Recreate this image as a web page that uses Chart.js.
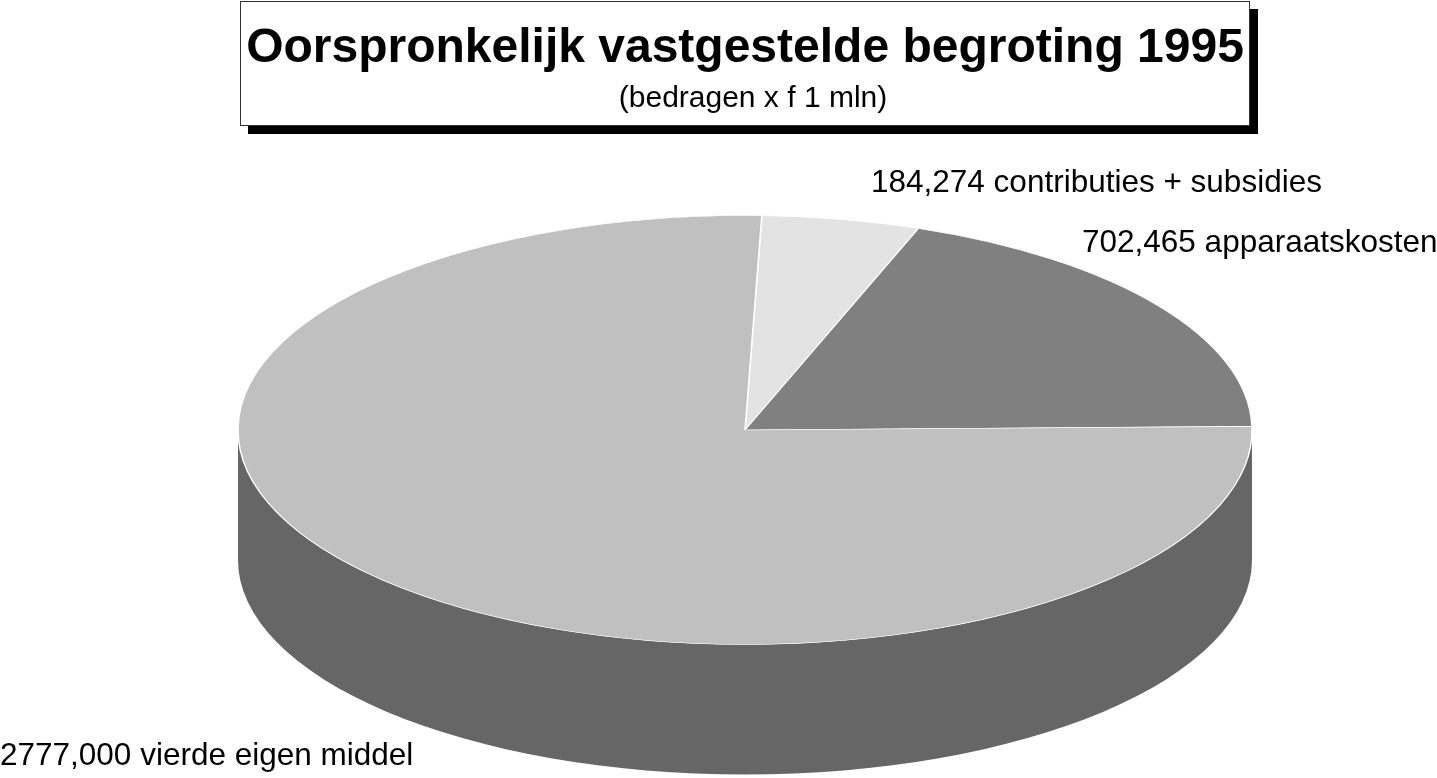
<!DOCTYPE html>
<html lang="nl">
<head>
  <meta charset="UTF-8">
  <title>Oorspronkelijk vastgestelde begroting 1995</title>
  <script src="https://cdn.jsdelivr.net/npm/chart.js"></script>
  <style>
    body { margin: 0; background: #fff; font-family: "Liberation Sans", Arial, sans-serif; }
    #wrap { position: relative; width: 1437px; height: 778px; overflow: hidden; }
    #chart { position: absolute; left: 0; top: 0; }
    #titleBox {
      position: absolute; left: 240px; top: 1px; width: 1008px; height: 123px;
      border: 1px solid #333; background: #fff; box-shadow: 8px 8px 0 #000; z-index: 2;
    }
    #titleBox .main {
      position: absolute; left: 0; top: 20px; width: 100%; text-align: center;
      font-weight: bold; font-size: 48px; line-height: 48px; white-space: nowrap;
    }
    #titleBox .sub {
      position: absolute; left: 8px; top: 80px; width: 100%; text-align: center;
      font-size: 30px; line-height: 30px; white-space: nowrap;
    }
  </style>
</head>
<body>
  <div id="wrap">
    <canvas id="chart" width="1437" height="778"></canvas>
    <!-- Title box with drop shadow -->
    <div id="titleBox">
      <div class="main">Oorspronkelijk vastgestelde begroting 1995</div>
      <div class="sub">(bedragen x f 1 mln)</div>
    </div>
  </div>

  <script>
    // data (x f 1 mln)
    const categories = ['contributies + subsidies', 'apparaatskosten', 'vierde eigen middel'];
    const amounts = [184.274, 702.465, 2777.000];

    // styles
    const topColors = ['#e3e3e3', '#808080', '#c0c0c0'];
    const wallColors = ['#8c8c8c', '#4d4d4d', '#666666'];
    const labelAt = [[871, 192], [1082, 252], [0, 765]];

    const TILT = 214.5 / 507;  // vertical squash of the disc
    const DEPTH = 130;         // thickness of the disc in px

    const fmt = v => v.toFixed(3).replace('.', ',');

    // draws the side wall, then squashes the pie into an ellipse
    const pie3d = {
      id: 'pie3d',
      beforeDatasetsDraw(chart) {
        const ctx = chart.ctx;
        const meta = chart.getDatasetMeta(0);
        meta.data.forEach((arc, i) => {
          const { x, y, startAngle, endAngle, outerRadius } =
            arc.getProps(['x', 'y', 'startAngle', 'endAngle', 'outerRadius']);
          const rx = outerRadius, ry = outerRadius * TILT;
          for (let k = -1; k <= 1; k++) {
            const a0 = Math.max(startAngle, k * 2 * Math.PI);
            const a1 = Math.min(endAngle, k * 2 * Math.PI + Math.PI);
            if (a1 <= a0) continue;
            ctx.save();
            ctx.fillStyle = wallColors[i];
            ctx.beginPath();
            ctx.ellipse(x, y, rx, ry, 0, a0, a1, false);
            ctx.lineTo(x + rx * Math.cos(a1), y + ry * Math.sin(a1) + DEPTH);
            ctx.ellipse(x, y + DEPTH, rx, ry, 0, a1, a0, true);
            ctx.closePath();
            ctx.fill();
            ctx.restore();
          }
        });
      },
      beforeDatasetDraw(chart, args) {
        const ctrl = args.meta.controller;
        if (ctrl._tilted) return;
        const orig = ctrl.draw.bind(ctrl);
        ctrl.draw = function () {
          const ctx = chart.ctx;
          const a = args.meta.data[0];
          ctx.save();
          ctx.translate(a.x, a.y);
          ctx.scale(1, TILT);
          ctx.translate(-a.x, -a.y);
          orig();
          ctx.restore();
        };
        ctrl._tilted = true;
      },
      afterDraw(chart) {
        const ctx = chart.ctx;
        ctx.save();
        ctx.font = '31.5px "Liberation Sans", Arial, sans-serif';
        ctx.fillStyle = '#000';
        ctx.textAlign = 'left';
        ctx.textBaseline = 'alphabetic';
        categories.forEach((c, i) => {
          ctx.fillText(fmt(amounts[i]) + ' ' + c, labelAt[i][0], labelAt[i][1]);
        });
        ctx.restore();
      }
    };

    new Chart(document.getElementById('chart'), {
      type: 'pie',
      data: {
        labels: categories,
        datasets: [{
          data: amounts,
          backgroundColor: topColors,
          borderColor: '#fff',
          borderWidth: 1.5,
          radius: 507,
          clip: false
        }]
      },
      options: {
        responsive: false,
        animation: false,
        events: [],
        rotation: 1.9,
        layout: { padding: { left: 53, top: 82, right: 0, bottom: 0 } },
        plugins: {
          legend: { display: false },
          tooltip: { enabled: false }
        }
      },
      plugins: [pie3d]
    });
  </script>
</body>
</html>
